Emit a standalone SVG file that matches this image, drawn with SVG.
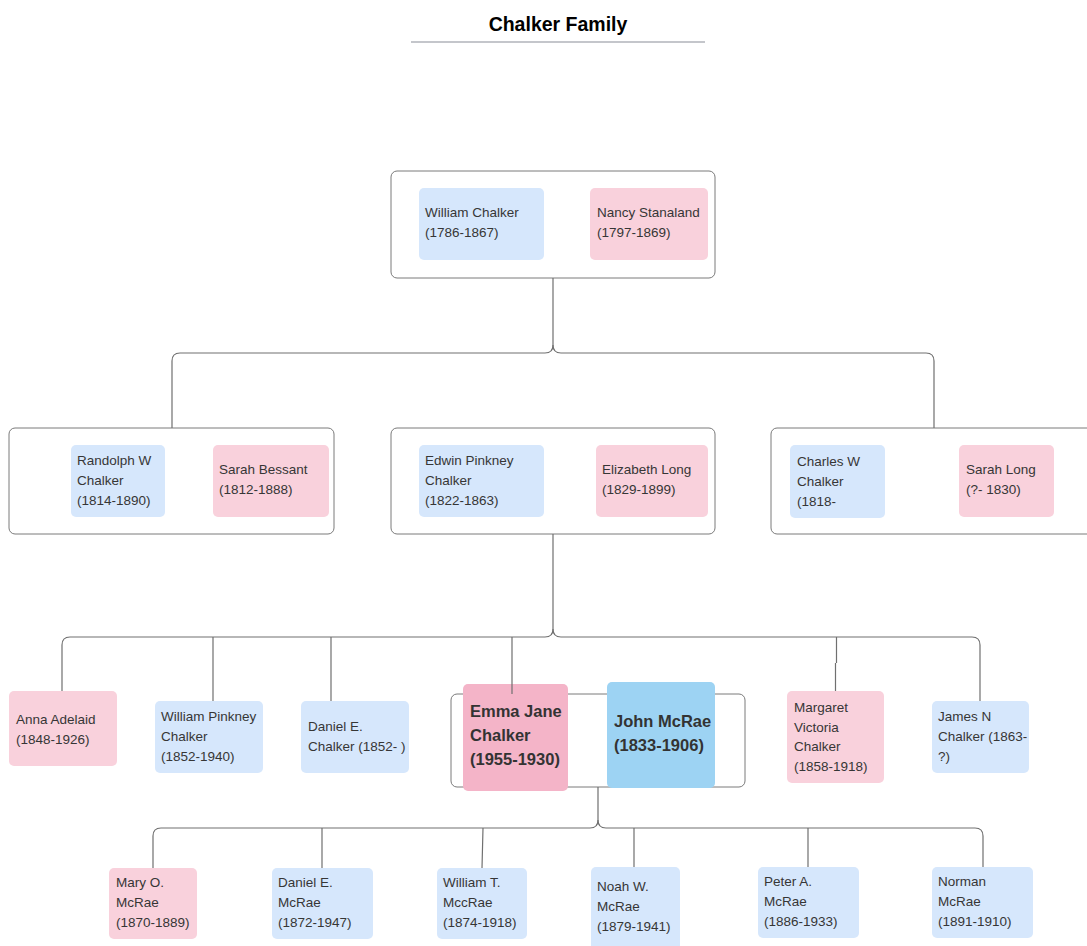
<svg xmlns="http://www.w3.org/2000/svg" width="1087" height="946" viewBox="0 0 1087 946">
<style>
.t{font-family:"Liberation Sans",Arial,sans-serif;font-size:13.5px;fill:#363636}
.b{font-family:"Liberation Sans",Arial,sans-serif;font-size:16.5px;font-weight:bold;fill:#333}
.title{font-family:"Liberation Sans",Arial,sans-serif;font-size:19.5px;font-weight:bold;fill:#000}
.cpl{fill:#fff;stroke:#7a7a7a;stroke-width:1}
.m{fill:#d6e7fc}
.f{fill:#f9d1dc}
.c{fill:none;stroke:#707070;stroke-width:1.2}
</style>
<rect width="1087" height="946" fill="#fff"/>
<g id="title">
<text class="title" x="558" y="31" text-anchor="middle">Chalker Family</text>
<line x1="411" y1="42" x2="705" y2="42" stroke="#b0b3ba" stroke-width="1.5"/>
</g>
<g id="couple-william-nancy">
<rect class="cpl" x="391" y="171" width="324" height="107" rx="6"/>
<g id="william-chalker"><rect class="m" x="419" y="188" width="125" height="72" rx="5"/>
<text class="t" x="425" y="217">William Chalker</text><text class="t" x="425" y="237">(1786-1867)</text></g>
<g id="nancy-stanaland"><rect class="f" x="590" y="188" width="118" height="72" rx="5"/>
<text class="t" x="597" y="217">Nancy Stanaland</text><text class="t" x="597" y="237">(1797-1869)</text></g>
</g>
<g id="couple-randolph-sarah">
<rect class="cpl" x="9" y="428" width="325" height="106" rx="6"/>
<g id="randolph"><rect class="m" x="71" y="445" width="94" height="72" rx="5"/>
<text class="t" x="77" y="465">Randolph W</text><text class="t" x="77" y="485">Chalker</text><text class="t" x="77" y="505">(1814-1890)</text></g>
<g id="sarah-bessant"><rect class="f" x="213" y="445" width="116" height="72" rx="5"/>
<text class="t" x="219" y="474">Sarah Bessant</text><text class="t" x="219" y="494">(1812-1888)</text></g>
</g>
<g id="couple-edwin-elizabeth">
<rect class="cpl" x="391" y="428" width="324" height="106" rx="6"/>
<g id="edwin"><rect class="m" x="419" y="445" width="125" height="72" rx="5"/>
<text class="t" x="425" y="465">Edwin Pinkney</text><text class="t" x="425" y="485">Chalker</text><text class="t" x="425" y="505">(1822-1863)</text></g>
<g id="elizabeth-long"><rect class="f" x="596" y="445" width="112" height="72" rx="5"/>
<text class="t" x="602" y="474">Elizabeth Long</text><text class="t" x="602" y="494">(1829-1899)</text></g>
</g>
<g id="couple-charles-sarah">
<rect class="cpl" x="771" y="428" width="325" height="106" rx="6"/>
<g id="charles"><rect class="m" x="790" y="445" width="95" height="73" rx="5"/>
<text class="t" x="797" y="466">Charles W</text><text class="t" x="797" y="486">Chalker</text><text class="t" x="797" y="506">(1818-</text></g>
<g id="sarah-long"><rect class="f" x="959" y="445" width="95" height="72" rx="5"/>
<text class="t" x="966" y="474">Sarah Long</text><text class="t" x="966" y="494">(?- 1830)</text></g>
</g>
<g id="anna"><rect class="f" x="9" y="691" width="108" height="75" rx="5"/>
<text class="t" x="16" y="724">Anna Adelaid</text><text class="t" x="16" y="744">(1848-1926)</text></g>
<g id="william-pinkney"><rect class="m" x="155" y="701" width="108" height="72" rx="5"/>
<text class="t" x="161" y="721">William Pinkney</text><text class="t" x="161" y="741">Chalker</text><text class="t" x="161" y="761">(1852-1940)</text></g>
<g id="daniel-chalker"><rect class="m" x="301" y="701" width="108" height="72" rx="5"/>
<text class="t" x="308" y="731">Daniel E.</text><text class="t" x="308" y="751">Chalker (1852- )</text></g>
<g id="couple-emma-john">
<rect class="cpl" x="451" y="694" width="294" height="93" rx="6"/>
<g id="emma"><rect x="463" y="684" width="105" height="107" rx="5" fill="#f4b4c8"/>
<text class="b" x="470" y="717">Emma Jane</text><text class="b" x="470" y="741">Chalker</text><text class="b" x="470" y="765">(1955-1930)</text></g>
<g id="john"><rect x="607" y="682" width="108" height="106" rx="5" fill="#9dd3f3"/>
<text class="b" x="614" y="727">John McRae</text><text class="b" x="614" y="751">(1833-1906)</text></g>
</g>
<g id="margaret"><rect class="f" x="787" y="691" width="97" height="92" rx="5"/>
<text class="t" x="794" y="712">Margaret</text><text class="t" x="794" y="731.5">Victoria</text><text class="t" x="794" y="751">Chalker</text><text class="t" x="794" y="770.5">(1858-1918)</text></g>
<g id="james"><rect class="m" x="932" y="701" width="97" height="72" rx="5"/>
<text class="t" x="938" y="721">James N</text><text class="t" x="938" y="741">Chalker (1863-</text><text class="t" x="938" y="761">?)</text></g>
<g id="mary"><rect class="f" x="109" y="868" width="88" height="71" rx="5"/>
<text class="t" x="116" y="887">Mary O.</text><text class="t" x="116" y="907">McRae</text><text class="t" x="116" y="927">(1870-1889)</text></g>
<g id="daniel-mcrae"><rect class="m" x="272" y="868" width="101" height="71" rx="5"/>
<text class="t" x="278" y="887">Daniel E.</text><text class="t" x="278" y="907">McRae</text><text class="t" x="278" y="927">(1872-1947)</text></g>
<g id="william-mccrae"><rect class="m" x="437" y="868" width="90" height="71" rx="5"/>
<text class="t" x="443" y="887">William T.</text><text class="t" x="443" y="907">MccRae</text><text class="t" x="443" y="927">(1874-1918)</text></g>
<g id="noah"><rect class="m" x="591" y="867" width="89" height="85" rx="5"/>
<text class="t" x="597" y="891">Noah W.</text><text class="t" x="597" y="911">McRae</text><text class="t" x="597" y="931">(1879-1941)</text></g>
<g id="peter"><rect class="m" x="758" y="867" width="101" height="71" rx="5"/>
<text class="t" x="764" y="886">Peter A.</text><text class="t" x="764" y="906">McRae</text><text class="t" x="764" y="926">(1886-1933)</text></g>
<g id="norman"><rect class="m" x="932" y="867" width="101" height="71" rx="5"/>
<text class="t" x="938" y="886">Norman</text><text class="t" x="938" y="906">McRae</text><text class="t" x="938" y="926">(1891-1910)</text></g>
<g id="connectors">
<path class="c" d="M553 278V345Q553 353 545 353H180Q172 353 172 361V428"/>
<path class="c" d="M553 345Q553 353 561 353H926Q934 353 934 361V428"/>
<path class="c" d="M553 534V629Q553 637 545 637H70Q62 637 62 645V691"/>
<path class="c" d="M553 629Q553 637 561 637H972Q980 637 980 645V701"/>
<path class="c" d="M213 637V701M331 637V701M512 637V694M836.5 637V663M835.5 663V691"/>
<path class="c" d="M598 787V820Q598 828 590 828H161Q153 828 153 836V868"/>
<path class="c" d="M598 820Q598 828 606 828H975Q983 828 983 836V867"/>
<path class="c" d="M322 828V868M483 828L482 868M634 828V867M808 828V867"/>
</g>
</svg>
